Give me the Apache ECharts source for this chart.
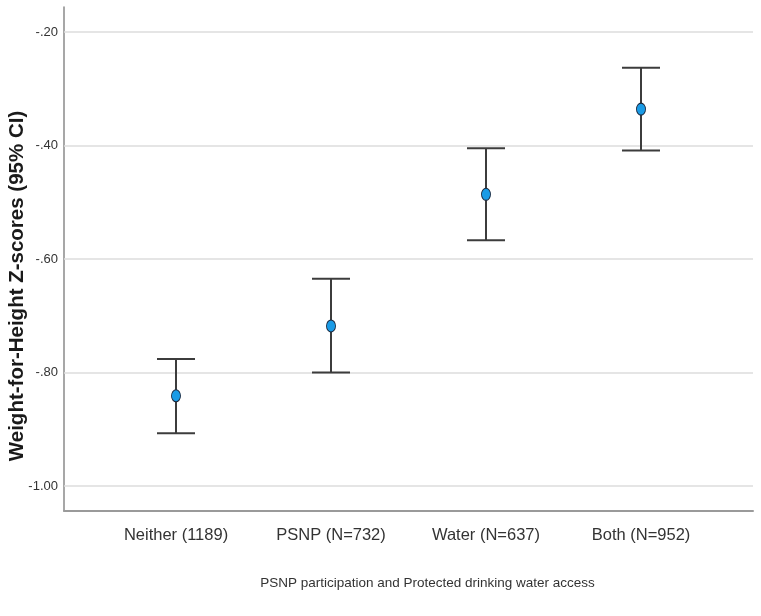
<!DOCTYPE html>
<html><head><meta charset="utf-8">
<script src="https://cdn.jsdelivr.net/npm/echarts@6/dist/echarts.min.js"></script>
<style>html,body{margin:0;padding:0;background:#fff}#c{width:761px;height:616px}</style>
</head><body><div id="c"></div>
<script>
const categories = ['Neither (1189)', 'PSNP (N=732)', 'Water (N=637)', 'Both (N=952)'];
const means = [-0.841, -0.718, -0.486, -0.336];
const lower = [-0.907, -0.800, -0.567, -0.409];
const upper = [-0.776, -0.635, -0.405, -0.263];
const yTicks = [-1.0, -0.8, -0.6, -0.4, -0.2];

const sans = '"Liberation Sans", Arial, sans-serif';
const catIdx = categories.map((c, i) => i);

const chart = echarts.init(document.getElementById('c'), null, {renderer: 'canvas'});
chart.setOption({
  animation: false,
  backgroundColor: '#fff',
  grid: {left: 64, right: 8, top: 7, bottom: 105, containLabel: false, outerBoundsMode: 'none'},
  xAxis: {
    type: 'value', min: -0.7226, max: 3.7226,
    splitLine: {show: false},
    axisLine: {show: true, onZero: false, lineStyle: {color: '#9a9a9a', width: 2}},
    axisTick: {show: false},
    axisLabel: {
      customValues: catIdx, margin: 16,
      fontFamily: sans, fontSize: 16.5, color: '#333',
      formatter: v => categories[Math.round(v)] || ''
    },
    name: 'PSNP participation and Protected drinking water access',
    nameLocation: 'middle', nameGap: 65,
    nameTextStyle: {fontFamily: sans, fontSize: 13.5, color: '#333', padding: [0, 0, 0, 38]}
  },
  yAxis: {
    type: 'value', min: -1.044, max: -0.156,
    splitLine: {show: false},
    axisLine: {show: true, onZero: false, lineStyle: {color: '#8a8a8a', width: 1.5}},
    axisTick: {show: false},
    axisLabel: {
      customValues: yTicks, margin: 6,
      fontFamily: sans, fontSize: 13, color: '#333',
      formatter: v => v.toFixed(2).replace(/^(-?)0\./, '$1.')
    },
    name: 'Weight-for-Height Z-scores (95% CI)',
    nameLocation: 'middle', nameGap: 36, nameRotate: 90, nameMoveOverlap: false,
    nameTextStyle: {fontFamily: sans, fontSize: 20.5, fontWeight: 'bold', color: '#1a1a1a', padding: [0, 54, 0, 0]}
  },
  series: [
    {
      type: 'line',
      data: [],
      silent: true,
      z: 0,
      markLine: {
        silent: true, symbol: 'none', label: {show: false},
        lineStyle: {color: '#dcdcdc', width: 1.5, type: 'solid'},
        data: yTicks.map(v => ({yAxis: v}))
      }
    },
    {
      type: 'custom',
      silent: true,
      data: catIdx.map(i => [i, lower[i], upper[i]]),
      renderItem: function (params, api) {
        const x = api.value(0);
        const lo = api.coord([x, api.value(1)]);
        const hi = api.coord([x, api.value(2)]);
        const hw = 19;
        const style = {stroke: '#3c3c3c', lineWidth: 2};
        return {
          type: 'group',
          children: [
            {type: 'line', shape: {x1: lo[0], y1: lo[1], x2: hi[0], y2: hi[1]}, style: style},
            {type: 'line', shape: {x1: lo[0] - hw, y1: lo[1], x2: lo[0] + hw, y2: lo[1]}, style: style},
            {type: 'line', shape: {x1: hi[0] - hw, y1: hi[1], x2: hi[0] + hw, y2: hi[1]}, style: style}
          ]
        };
      },
      z: 10
    },
    {
      type: 'scatter',
      data: catIdx.map(i => [i, means[i]]),
      symbol: 'circle', symbolSize: [9, 12],
      itemStyle: {color: '#1a9be6', borderColor: '#1c2a40', borderWidth: 1, opacity: 1},
      z: 12
    }
  ]
});
</script>
</body></html>
